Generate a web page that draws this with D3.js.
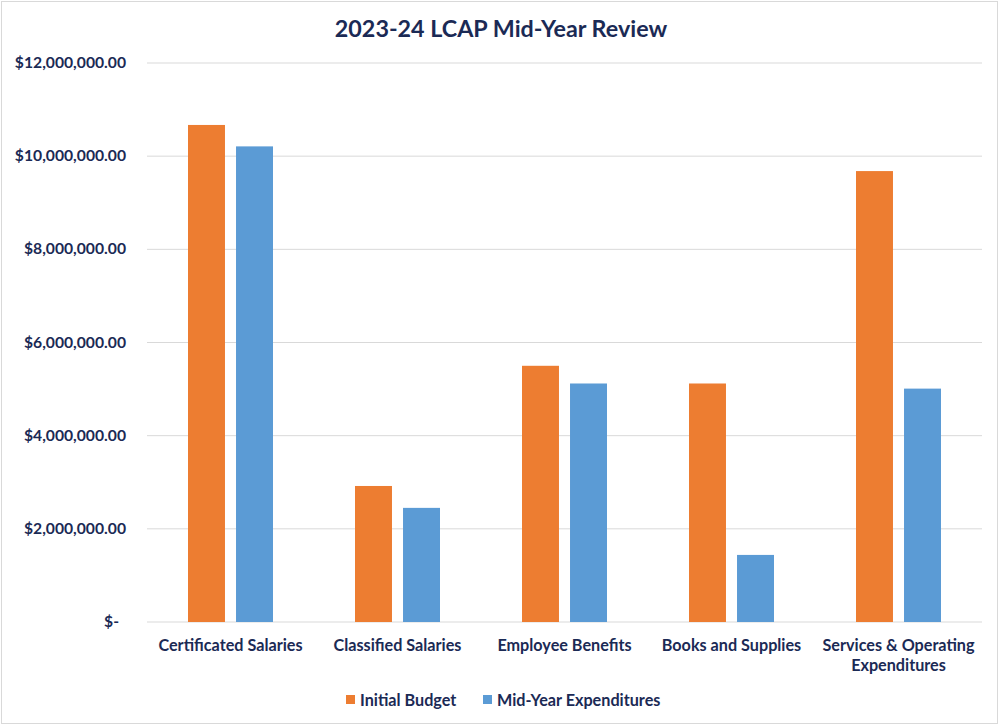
<!DOCTYPE html>
<html>
<head>
<meta charset="utf-8">
<script src="https://cdn.jsdelivr.net/npm/d3@7"></script>
<style>
  body { margin: 0; background: #fff; }
  svg text { font-family: Lato, "Open Sans", sans-serif; font-weight: bold; fill: #1b2a55; }
</style>
</head>
<body>
<div id="chart"></div>
<script>
const categories = ["Certificated Salaries", "Classified Salaries", "Employee Benefits", "Books and Supplies", "Services & Operating Expenditures"];
const seriesNames = ["Initial Budget", "Mid-Year Expenditures"];
const initialBudget = [10670000, 2920000, 5500000, 5120000, 9680000];
const midYear = [10210000, 2450000, 5120000, 1440000, 5010000];
const yTicks = [0, 2000000, 4000000, 6000000, 8000000, 10000000, 12000000];
const colors = ["#ED7D31", "#5B9BD5"];

(function () {
  const w = 999, h = 725;
  const left = 147, right = 982, top = 63, bottom = 622;

  const svg = d3.select("#chart").append("svg")
    .attr("width", w).attr("height", h);

  // outer frame
  svg.append("rect")
    .attr("x", 1.5).attr("y", 1.5).attr("width", w - 3).attr("height", h - 3)
    .attr("fill", "#fff").attr("stroke", "#d9d9d9");

  const xScale = d3.scaleBand().domain(categories).range([left, right]).paddingInner(0).paddingOuter(0);
  const inner = d3.scaleBand().domain(seriesNames).range([-42.5, 42.5]).paddingInner(0.23).paddingOuter(0);
  const yScale = d3.scaleLinear().domain([0, 12000000]).range([bottom, top]);

  // gridlines
  svg.append("g").selectAll("line").data(yTicks).enter().append("line")
    .attr("x1", left).attr("x2", right)
    .attr("y1", d => yScale(d)).attr("y2", d => yScale(d))
    .attr("stroke", "#d9d9d9").attr("stroke-width", 1);

  // y labels
  const fmt = d3.format(",.2f");
  svg.append("g").selectAll("text").data(yTicks).enter().append("text")
    .attr("x", d => d === 0 ? 119 : 126)
    .attr("y", d => yScale(d) + 5)
    .attr("text-anchor", "end")
    .attr("font-size", 15.7)
    .text(d => d === 0 ? "$-" : "$" + fmt(d));

  // bars
  const rows = categories.map((c, i) => ({ cat: c, vals: [initialBudget[i], midYear[i]] }));
  const groups = svg.append("g").selectAll("g").data(rows).enter().append("g")
    .attr("transform", d => "translate(" + (xScale(d.cat) + xScale.bandwidth() / 2) + ",0)");
  groups.selectAll("rect").data(d => d.vals.map((v, j) => ({ v, s: seriesNames[j], j })))
    .enter().append("rect")
    .attr("x", d => inner(d.s))
    .attr("width", inner.bandwidth())
    .attr("y", d => yScale(d.v))
    .attr("height", d => bottom - yScale(d.v))
    .attr("fill", d => colors[d.j]);

  // x labels
  const xl = svg.append("g").selectAll("text").data(categories).enter().append("text")
    .attr("x", d => xScale(d) + xScale.bandwidth() / 2)
    .attr("y", 651)
    .attr("text-anchor", "middle")
    .attr("font-size", 16.2);
  xl.each(function (d) {
    const t = d3.select(this);
    if (d === "Services & Operating Expenditures") {
      t.append("tspan").attr("x", t.attr("x")).text("Services & Operating");
      t.append("tspan").attr("x", t.attr("x")).attr("dy", 20).text("Expenditures");
    } else {
      t.text(d);
    }
  });

  // title
  svg.append("text")
    .attr("x", 501).attr("y", 37)
    .attr("text-anchor", "middle")
    .attr("font-size", 23.3)
    .text("2023-24 LCAP Mid-Year Review");

  // legend
  const leg = [{ n: seriesNames[0], x: 346 }, { n: seriesNames[1], x: 483 }];
  const lg = svg.append("g").selectAll("g").data(leg).enter().append("g")
    .attr("transform", (d) => "translate(" + d.x + ",700)");
  lg.append("rect").attr("x", 0).attr("y", -5).attr("width", 9).attr("height", 9)
    .attr("fill", (d, i) => colors[i]);
  lg.append("text").attr("x", 14).attr("y", 6).attr("font-size", 16.2).text(d => d.n);
})();
</script>
</body>
</html>
